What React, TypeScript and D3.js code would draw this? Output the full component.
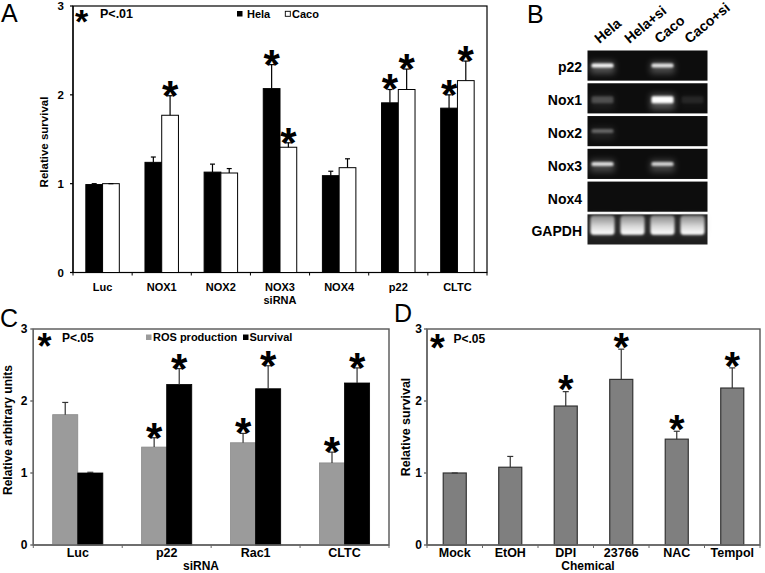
import React from 'react';
import * as d3 from 'd3';

// ---------------- data ----------------
// Panel A
const aCategories = ['Luc', 'NOX1', 'NOX2', 'NOX3', 'NOX4', 'p22', 'CLTC'];
const aSeriesNames = ['Hela', 'Caco'];
const aHela = [0.99, 1.24, 1.13, 2.07, 1.09, 1.91, 1.85];
const aHelaErrTop = [1.0, 1.3, 1.22, 2.34, 1.14, 2.06, 2.0];
const aHelaSig = [false, false, false, true, false, true, true];
const aCaco = [1.0, 1.77, 1.12, 1.41, 1.18, 2.06, 2.16];
const aCacoErrTop = [1.0, 1.99, 1.17, 1.46, 1.28, 2.29, 2.38];
const aCacoSig = [false, true, false, true, false, true, true];

// Panel B (gel)
const gelLanes = ['Hela', 'Hela+si', 'Caco', 'Caco+si'];
const gelRows = ['p22', 'Nox1', 'Nox2', 'Nox3', 'Nox4', 'GAPDH'];
const gelIntensity = [
  [0.95, 0, 0.85, 0],
  [0.22, 0, 1.0, 0.08],
  [0.3, 0, 0, 0],
  [0.8, 0, 0.75, 0],
  [0, 0, 0, 0],
  [1, 1, 1, 1],
];

// Panel C
const cCategories = ['Luc', 'p22', 'Rac1', 'CLTC'];
const cSeriesNames = ['ROS production', 'Survival'];
const cROS = [1.81, 1.36, 1.42, 1.14];
const cROSErrTop = [1.98, 1.49, 1.55, 1.29];
const cROSSig = [false, true, true, true];
const cSurv = [1.0, 2.23, 2.17, 2.25];
const cSurvErrTop = [1.01, 2.45, 2.49, 2.46];
const cSurvSig = [false, true, true, true];

// Panel D
const dCategories = ['Mock', 'EtOH', 'DPI', '23766', 'NAC', 'Tempol'];
const dSurv = [1.0, 1.08, 1.93, 2.3, 1.47, 2.18];
const dErrTop = [1.0, 1.23, 2.13, 2.72, 1.58, 2.46];
const dSig = [false, false, true, true, true, true];

const yTickValues = [0, 1, 2, 3];

// ---------------- helpers ----------------
const FONT = "'Liberation Sans', Arial, Helvetica, sans-serif";

function Star({ cx, cy, size }: { cx: number; cy: number; size: number }) {
  return (
    <text x={cx} y={cy + size * 0.57} fontSize={size} fontWeight="bold" textAnchor="middle" fontFamily={FONT} fill="#000">
      *
    </text>
  );
}

interface SeriesSpec {
  key: string;
  values: number[];
  errs: number[];
  sig: boolean[];
  fill: string;
  stroke: string;
  strokeWidth: number;
  errColor: string;
}

interface PanelProps {
  categories: string[];
  series: SeriesSpec[];
  left: number;
  right: number;
  top: number;
  bottom: number;
  barFrac: number;
  tickFont: number;
  tickLabelRight: number;
  xFont: number;
  xLabelY: number;
  axisColor: string;
  frameColor: string;
  lineWidth: number;
  starSize: number;
  starGap: number;
  capW: number;
}

function BarPanel(p: PanelProps) {
  const x0 = d3.scaleBand<string>().domain(p.categories).range([p.left, p.right]);
  const y = d3.scaleLinear().domain([0, 3]).range([p.bottom, p.top]);
  const bw = x0.bandwidth() * p.barFrac;
  const x1 = d3
    .scaleBand<string>()
    .domain(p.series.map((s) => s.key))
    .range([0, bw * p.series.length]);
  const off = (x0.bandwidth() - bw * p.series.length) / 2;
  const boundaries = p.categories.map((c) => x0(c) as number).concat([p.right]);

  return (
    <g fontFamily={FONT}>
      <rect x={p.left} y={p.top} width={p.right - p.left} height={p.bottom - p.top} fill="none" stroke={p.frameColor} strokeWidth={p.lineWidth} />
      {p.series.map((s) =>
        p.categories.map((c, i) => {
          const bx = (x0(c) as number) + off + (x1(s.key) as number);
          const cx = bx + bw / 2;
          const v = s.values[i];
          const e = s.errs[i];
          return (
            <g key={s.key + c}>
              <rect x={bx} y={y(v)} width={bw} height={p.bottom - y(v)} fill={s.fill} stroke={s.stroke} strokeWidth={s.strokeWidth} />
              <line x1={cx} x2={cx} y1={y(v)} y2={y(e)} stroke={s.errColor} strokeWidth={1.2} />
              <line x1={cx - p.capW / 2} x2={cx + p.capW / 2} y1={y(e)} y2={y(e)} stroke={s.errColor} strokeWidth={1.2} />
              {s.sig[i] ? <Star cx={cx} cy={y(e) - p.starGap} size={p.starSize} /> : null}
            </g>
          );
        })
      )}
      {/* axes */}
      <line x1={p.left} x2={p.left} y1={p.top} y2={p.bottom} stroke={p.axisColor} strokeWidth={p.lineWidth} />
      <line x1={p.left} x2={p.right} y1={p.bottom} y2={p.bottom} stroke={p.axisColor} strokeWidth={p.lineWidth} />
      {yTickValues.map((t) => (
        <g key={'yt' + t}>
          <line x1={p.left - 3} x2={p.left} y1={y(t)} y2={y(t)} stroke={p.axisColor} strokeWidth={p.lineWidth} />
          <text x={p.tickLabelRight} y={y(t)} dy="0.35em" textAnchor="end" fontSize={p.tickFont} fontWeight="bold">
            {t}
          </text>
        </g>
      ))}
      {boundaries.map((bx, i) => (
        <line key={'xt' + i} x1={bx} x2={bx} y1={p.bottom} y2={p.bottom + 3} stroke={p.axisColor} strokeWidth={1} />
      ))}
      {p.categories.map((c) => (
        <text key={'xl' + c} x={(x0(c) as number) + x0.bandwidth() / 2} y={p.xLabelY} dy="0.35em" textAnchor="middle" fontSize={p.xFont} fontWeight="bold">
          {c}
        </text>
      ))}
    </g>
  );
}

function GelPanel() {
  const lane = d3.scaleBand<string>().domain(gelLanes).range([587.5, 707.5]);
  const row = d3.scaleBand<string>().domain(gelRows).range([50.5, 244.5]).paddingInner(0.08);
  const rh = row.bandwidth();
  return (
    <g fontFamily={FONT}>
      <defs>
        <filter id="blurSoft" x="-50%" y="-100%" width="200%" height="300%">
          <feGaussianBlur stdDeviation="1.1" />
        </filter>
        <filter id="blurGlow" x="-50%" y="-100%" width="200%" height="300%">
          <feGaussianBlur stdDeviation="3" />
        </filter>
        <linearGradient id="gapdhGrad" x1="0" x2="0" y1="0" y2="1">
          <stop offset="0" stopColor="#8a8a8a" />
          <stop offset="0.55" stopColor="#d8d8d8" />
          <stop offset="1" stopColor="#ffffff" />
        </linearGradient>
      </defs>
      {gelRows.map((r, ri) => {
        const top = row(r) as number;
        const isG = r === 'GAPDH';
        return (
          <g key={r}>
            <rect x={587.5} y={top} width={120} height={rh} fill={isG ? '#1e1e1e' : '#0d0d0d'} />
            {gelLanes.map((l, li) => {
              const it = gelIntensity[ri][li];
              if (it <= 0) return null;
              const cx = (lane(l) as number) + lane.bandwidth() / 2;
              if (isG) {
                return (
                  <g key={l}>
                    <rect x={cx - 12.5} y={top + 1} width={25} height={rh - 10} rx={3} fill="#888" opacity={0.35} filter="url(#blurGlow)" />
                    <rect x={cx - 12} y={top + 1.5} width={24} height={19} rx={3} fill="url(#gapdhGrad)" opacity={it} filter="url(#blurSoft)" />
                  </g>
                );
              }
              const h = r === 'Nox1' ? 7 : 4;
              const cy = top + rh * (r === 'Nox1' ? 0.55 : 0.5);
              return (
                <g key={l}>
                  <rect x={cx - 12} y={cy - h / 2 - 2} width={24} height={h + 8} fill="#ffffff" opacity={it * 0.3} filter="url(#blurGlow)" />
                  <rect x={cx - 11} y={cy - h / 2} width={22} height={h} rx={1.5} fill="#ffffff" opacity={it} filter="url(#blurSoft)" />
                </g>
              );
            })}
            <text x={582} y={top + rh / 2 + 2} dy="0.35em" textAnchor="end" fontSize={14} fontWeight="bold">
              {r}
            </text>
          </g>
        );
      })}
      {gelLanes.map((l) => {
        const lx = (lane(l) as number) + lane.bandwidth() / 2 - 3;
        return (
          <text key={'lane' + l} transform={`translate(${lx},44) rotate(-40)`} fontSize={14} fontWeight="bold">
            {l}
          </text>
        );
      })}
    </g>
  );
}

export default function App() {
  const seriesA: SeriesSpec[] = [
    { key: aSeriesNames[0], values: aHela, errs: aHelaErrTop, sig: aHelaSig, fill: '#000', stroke: '#000', strokeWidth: 1, errColor: '#000' },
    { key: aSeriesNames[1], values: aCaco, errs: aCacoErrTop, sig: aCacoSig, fill: '#fff', stroke: '#000', strokeWidth: 1, errColor: '#000' },
  ];
  const seriesC: SeriesSpec[] = [
    { key: cSeriesNames[0], values: cROS, errs: cROSErrTop, sig: cROSSig, fill: '#9b9b9b', stroke: '#8a8a8a', strokeWidth: 0.8, errColor: '#333' },
    { key: cSeriesNames[1], values: cSurv, errs: cSurvErrTop, sig: cSurvSig, fill: '#000', stroke: '#000', strokeWidth: 0.8, errColor: '#333' },
  ];
  const seriesD: SeriesSpec[] = [
    { key: 'Survival', values: dSurv, errs: dErrTop, sig: dSig, fill: '#7f7f7f', stroke: '#333', strokeWidth: 1.2, errColor: '#333' },
  ];

  return (
    <svg width={765} height={573} style={{ position: 'absolute', left: 0, top: 0, display: 'block', background: '#fff' }} fontFamily={FONT}>
      <rect x={0} y={0} width={765} height={573} fill="#fff" />
      {/* Panel A */}
      <text x={1} y={22} fontSize={25} fontFamily={FONT}>A</text>
      <BarPanel
        categories={aCategories}
        series={seriesA}
        left={73}
        right={487}
        top={6}
        bottom={272.5}
        barFrac={0.283}
        tickFont={11.5}
        tickLabelRight={64}
        xFont={11}
        xLabelY={287}
        axisColor="#000"
        frameColor="#000"
        lineWidth={1.2}
        starSize={42}
        starGap={10}
        capW={5}
      />
      <text transform="translate(44,142) rotate(-90)" textAnchor="middle" dy="0.35em" fontSize={11.5} fontWeight="bold">Relative survival</text>
      <text x={280} y={300.5} dy="0.35em" textAnchor="middle" fontSize={11} fontWeight="bold">siRNA</text>
      <Star cx={81.7} cy={14} size={34} />
      <text x={100} y={14} dy="0.35em" fontSize={12.5} fontWeight="bold">P&lt;.01</text>
      <rect x={237} y={11} width={5.5} height={5.5} fill="#000" />
      <text x={247} y={14} dy="0.35em" fontSize={11} fontWeight="bold">{aSeriesNames[0]}</text>
      <rect x={285.3} y={11.3} width={5} height={5} fill="#fff" stroke="#000" strokeWidth={0.9} />
      <text x={292} y={14} dy="0.35em" fontSize={11} fontWeight="bold">{aSeriesNames[1]}</text>

      {/* Panel B */}
      <text x={527} y={23} fontSize={25} fontFamily={FONT}>B</text>
      <GelPanel />

      {/* Panel C */}
      <text x={0} y={327} fontSize={25} fontFamily={FONT}>C</text>
      <BarPanel
        categories={cCategories}
        series={seriesC}
        left={33.3}
        right={389}
        top={329}
        bottom={545}
        barFrac={0.282}
        tickFont={12}
        tickLabelRight={27.5}
        xFont={12.5}
        xLabelY={553}
        axisColor="#666"
        frameColor="#555"
        lineWidth={1.4}
        starSize={42}
        starGap={10}
        capW={6}
      />
      <text transform="translate(7.5,430) rotate(-90)" textAnchor="middle" dy="0.35em" fontSize={12} fontWeight="bold">Relative arbitrary units</text>
      <text x={201} y={566} dy="0.35em" textAnchor="middle" fontSize={12} fontWeight="bold">siRNA</text>
      <Star cx={44.5} cy={338} size={36} />
      <text x={62} y={337.5} dy="0.35em" fontSize={12} fontWeight="bold">P&lt;.05</text>
      <rect x={146} y={334.5} width={5.5} height={5.5} fill="#9b9b9b" />
      <text x={153} y={337.5} dy="0.35em" fontSize={11} fontWeight="bold">{cSeriesNames[0]}</text>
      <rect x={243} y={334.5} width={5.5} height={5.5} fill="#000" />
      <text x={249.5} y={337.5} dy="0.35em" fontSize={11} fontWeight="bold">{cSeriesNames[1]}</text>

      {/* Panel D */}
      <text x={394} y={322} fontSize={25} fontFamily={FONT}>D</text>
      <BarPanel
        categories={dCategories}
        series={seriesD}
        left={427}
        right={760}
        top={329}
        bottom={545}
        barFrac={0.415}
        tickFont={12}
        tickLabelRight={422}
        xFont={12.5}
        xLabelY={553}
        axisColor="#666"
        frameColor="#555"
        lineWidth={1.4}
        starSize={40}
        starGap={11}
        capW={6}
      />
      <text transform="translate(406,427) rotate(-90)" textAnchor="middle" dy="0.35em" fontSize={12.5} fontWeight="bold">Relative survival</text>
      <text x={588} y={566} dy="0.35em" textAnchor="middle" fontSize={12} fontWeight="bold">Chemical</text>
      <Star cx={437.5} cy={339} size={38} />
      <text x={453.5} y={338.5} dy="0.35em" fontSize={12} fontWeight="bold">P&lt;.05</text>
    </svg>
  );
}
